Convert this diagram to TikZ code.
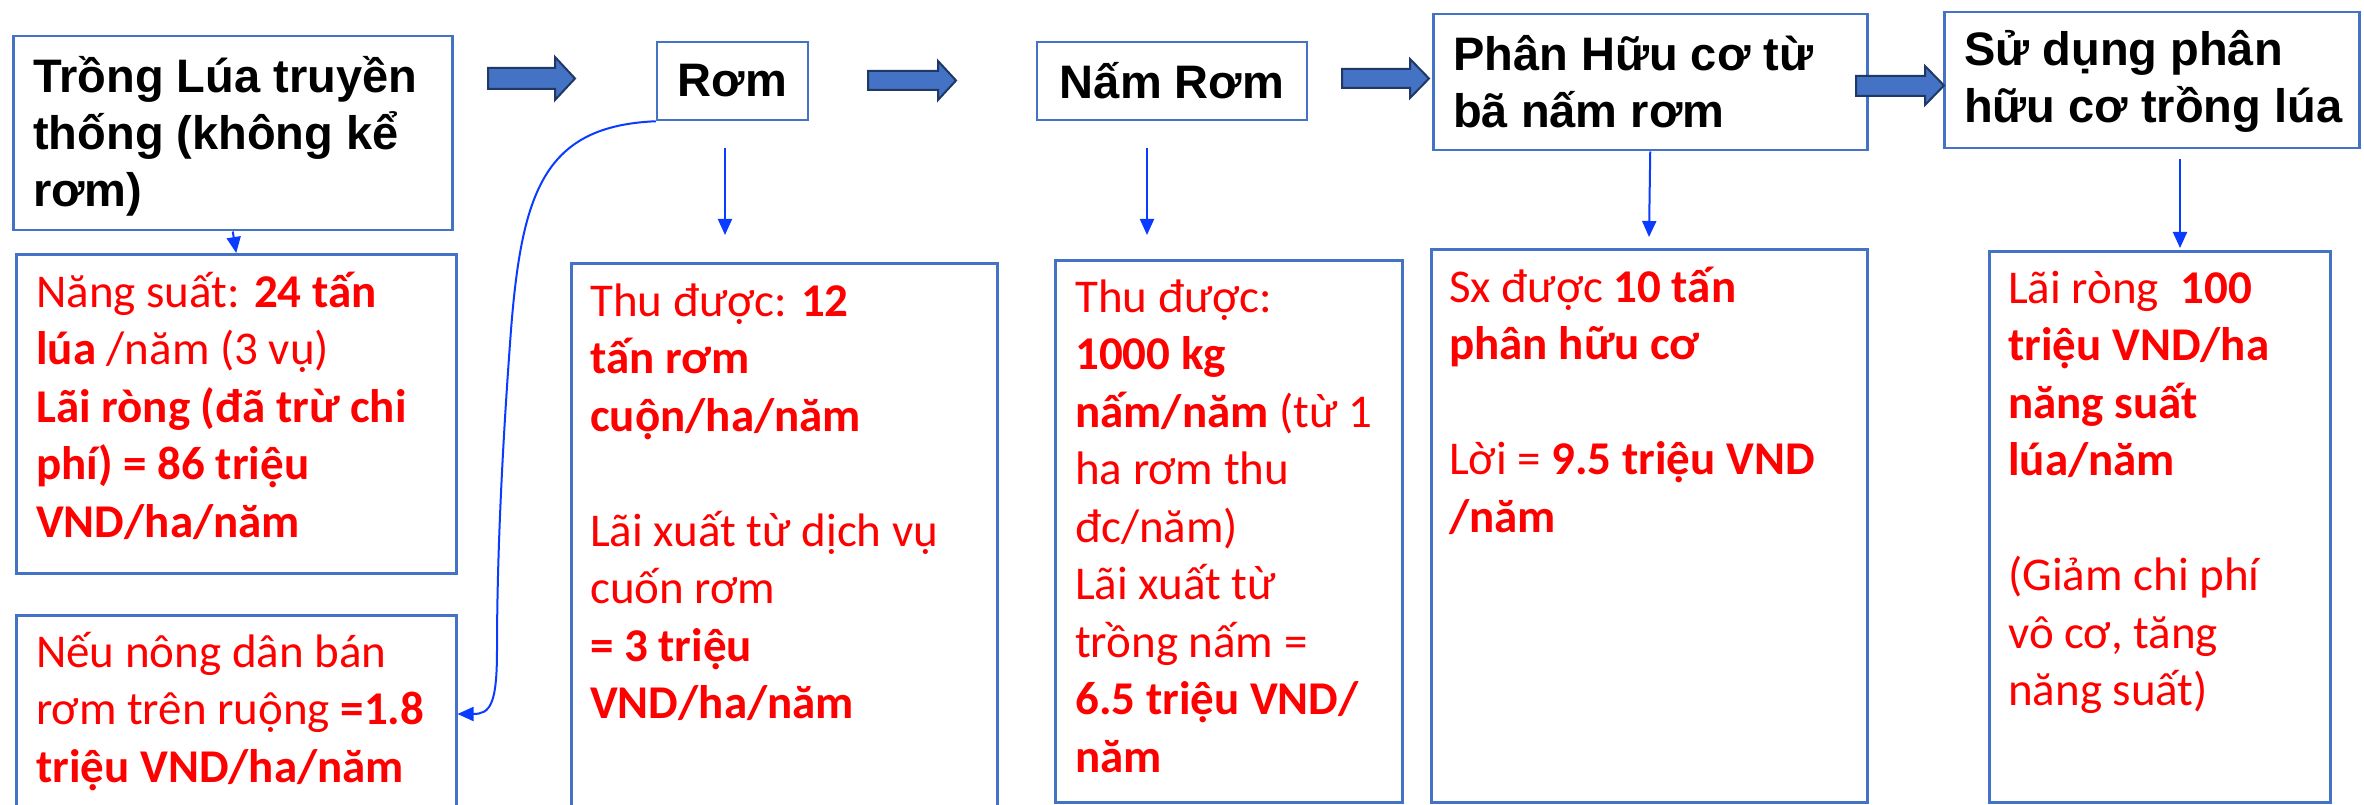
\documentclass[tikz,border=0pt]{standalone}
\usepackage{fontspec}
\setmainfont{Carlito}
\newfontfamily\headfont{Liberation Sans}
\usetikzlibrary{arrows.meta,calc}
\definecolor{boxblue}{HTML}{4472C4}
\definecolor{linkblue}{HTML}{0A3CFF}
\definecolor{arrowedge}{HTML}{1F3864}
\definecolor{txtred}{HTML}{FF0000}
\newcommand{\firstline}{\rule{0pt}{50pt}}
\setlength{\lineskiplimit}{-100pt}
\begin{document}
\begin{tikzpicture}[x=1pt,y=-1pt,
  boxnode/.style={draw=boxblue,line width=2.5pt,inner sep=0pt,anchor=north west},
  headtxt/.style={inner sep=0pt,anchor=north west,align=left,text=black,
    font=\headfont\bfseries\fontsize{47}{57}\selectfont},
  bodytxt/.style={inner sep=0pt,anchor=north west,align=left,text=txtred,
    font=\fontsize{47}{57.5}\selectfont},
  linkarrow/.style={draw=linkblue,line width=2pt,-{Triangle[width=14pt,length=16pt]}},
  blockarrow/.style={fill=boxblue,draw=arrowedge,line width=2pt,line join=miter}]
\clip (0,0) rectangle (2364,805);
\fill[white] (0,0) rectangle (2364,805);

% top row boxes
\node[boxnode,minimum width=439pt,minimum height=194pt] (box1) at (12,35) {};
\node[headtxt] (box1t) at (33,42) {\firstline Trồng Lúa truyền\\thống (không kể\\rơm)};
\node[boxnode,minimum width=151pt,minimum height=78pt,anchor=center,
  font=\headfont\bfseries\fontsize{47}{57}\selectfont] (rom) at (732.5,81) {Rơm};
\node[boxnode,minimum width=270pt,minimum height=78pt,anchor=center,
  font=\headfont\bfseries\fontsize{47}{57}\selectfont] (nam) at (1172,81) {Nấm Rơm};
\node[boxnode,minimum width=434pt,minimum height=136pt] (phan) at (1432,13) {};
\node[headtxt] (phant) at (1453,20) {\firstline Phân Hữu cơ từ\\bã nấm rơm};
\node[boxnode,minimum width=415pt,minimum height=136pt] (sud) at (1943,11) {};
\node[headtxt] (sudt) at (1964,15) {\firstline Sử dụng phân\\hữu cơ trồng lúa};

% block arrows
\newcommand{\blockarr}[7]{%
  \draw[blockarrow] (#1,#6) -- (#2,#6) -- (#2,#4) -- (#3,{(#4+#5)/2}) -- (#2,#5) -- (#2,#7) -- (#1,#7) -- cycle;}
\blockarr{488}{555}{575}{57}{100}{68}{89}
\blockarr{868}{938}{956}{61}{100}{71}{90}
\blockarr{1342}{1410}{1429}{59}{98}{69}{88}
\blockarr{1856}{1925}{1944}{66}{105}{76}{96}

% bottom boxes
\node[boxnode,minimum width=440pt,minimum height=319pt] (b1) at (15,253) {};
\node[bodytxt] (b1t) at (36,257) {\firstline Năng suất: \textbf{24 tấn}\\
  \textbf{lúa} /năm (3 vụ)\\
  \textbf{Lãi ròng (đã trừ chi}\\
  \textbf{phí) = 86 triệu}\\
  \textbf{VND/ha/năm}};

\node[boxnode,minimum width=440pt,minimum height=230pt] (b1b) at (15,614) {};
\node[bodytxt] (b1bt) at (36,617) {\firstline Nếu nông dân bán\\
  rơm trên ruộng \textbf{=1.8}\\
  \textbf{triệu VND/ha/năm}};

\node[boxnode,minimum width=426pt,minimum height=580pt] (b2) at (570,262) {};
\node[bodytxt] (b2t) at (590,266) {\firstline Thu được: \textbf{12}\\
  \textbf{tấn rơm}\\
  \textbf{cuộn/ha/năm}\\[57.5pt]
  Lãi xuất từ dịch vụ\\
  cuốn rơm\\
  \textbf{= 3 triệu}\\
  \textbf{VND/ha/năm}};

\node[boxnode,minimum width=347pt,minimum height=542pt] (b3) at (1054,259) {};
\node[bodytxt] (b3t) at (1075,262) {\firstline Thu được:\\
  \textbf{1000 kg}\\
  \textbf{nấm/năm} (từ 1\\
  ha rơm thu\\
  đc/năm)\\
  Lãi xuất từ\\
  trồng nấm =\\
  \textbf{6.5 triệu VND/}\\
  \textbf{năm}};

\node[boxnode,minimum width=436pt,minimum height=553pt] (b4) at (1430,248) {};
\node[bodytxt] (b4t) at (1449,252) {\firstline Sx được \textbf{10 tấn}\\
  \textbf{phân hữu cơ}\\[57.5pt]
  Lời = \textbf{9.5 triệu VND}\\
  \textbf{/năm}};

\node[boxnode,minimum width=341pt,minimum height=551pt] (b5) at (1988,250) {};
\node[bodytxt] (b5t) at (2008,253) {\firstline Lãi ròng\ \ \textbf{100}\\
  \textbf{triệu VND/ha}\\
  \textbf{năng suất}\\
  \textbf{lúa/năm}\\[57.5pt]
  (Giảm chi phí\\
  vô cơ, tăng\\
  năng suất)};

% thin arrows
\coordinate (romA) at (725,148);
\coordinate (romB) at (725,235);
\coordinate (namA) at (1147,148);
\coordinate (namB) at (1147,235);
\coordinate (phanB) at (1649,237);
\coordinate (sudA) at (2180,159);
\coordinate (sudB) at (2180,248);
\coordinate (b1bin) at ($(b1b.north east)+(0,100)$);

\draw[linkarrow] (box1.south) -- (b1.north);
\draw[linkarrow] (romA) -- (romB);
\draw[linkarrow] (namA) -- (namB);
\draw[linkarrow] (phan.south) -- (phanB);
\draw[linkarrow] (sudA) -- (sudB);
\draw[linkarrow] (rom.south west) .. controls (545,126) and (522,190) .. (511,330)
  .. controls (502,450) and (497,560) .. (497,650)
  .. controls (497,705) and (490,714) .. (b1bin);
\end{tikzpicture}
\end{document}
